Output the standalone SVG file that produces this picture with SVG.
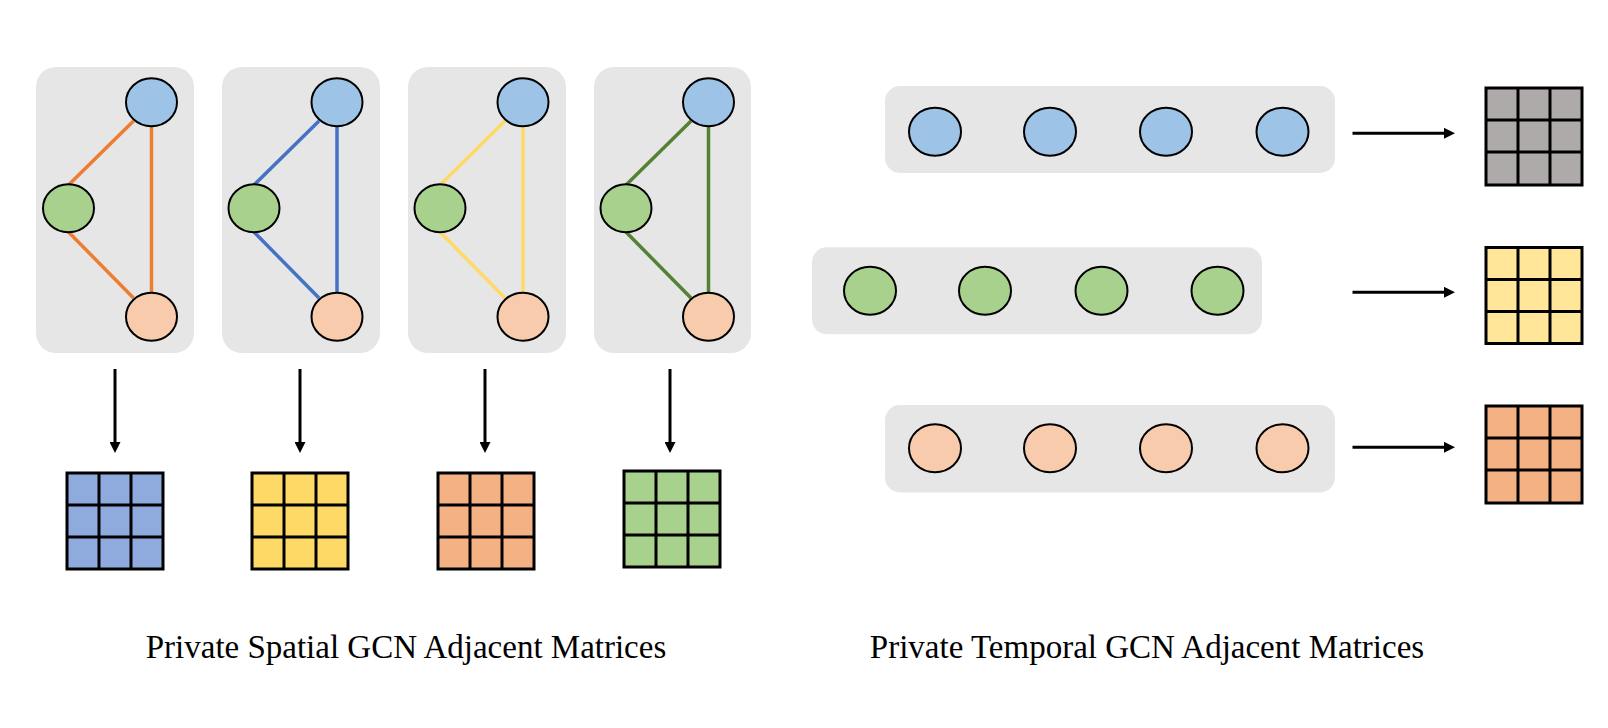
<svg xmlns="http://www.w3.org/2000/svg" width="1608" height="728" viewBox="0 0 1608 728">
<defs>
<style>
.panel{fill:#E6E6E6;stroke:none}
.n{stroke:#000;stroke-width:2}
.nb{fill:#9DC3E6}
.ng{fill:#A9D18E}
.np{fill:#F8CBAD}
.e{stroke-width:3.5;fill:none}
.eo{stroke:#ED7D31}
.ebl{stroke:#4472C4}
.ey{stroke:#FFD966}
.egr{stroke:#548235}
.m{stroke:#000;stroke-width:3}
.g{stroke:#000;stroke-width:3;fill:none}
.arr{stroke:#000;stroke-width:3;fill:none;marker-end:url(#ah)}
.cap{font-family:"Liberation Serif","Times New Roman",serif;font-size:33px;fill:#000;text-anchor:middle}
</style>
<marker id="ah" markerUnits="userSpaceOnUse" markerWidth="12" markerHeight="11" refX="1" refY="5.5" orient="auto">
<path d="M0,0 L11,5.5 L0,11 z" fill="#000"/>
</marker>
<g id="grid">
<line x1="32" y1="0" x2="32" y2="96"/>
<line x1="64" y1="0" x2="64" y2="96"/>
<line x1="0" y1="32" x2="96" y2="32"/>
<line x1="0" y1="64" x2="96" y2="64"/>
</g>
</defs>
<rect width="1608" height="728" fill="#fff"/>

<!-- Spatial panels -->
<g id="spatial1">
<rect class="panel" x="36" y="67" width="158" height="286" rx="20"/>
<g class="e eo">
<line x1="68.5" y1="185" x2="133.5" y2="121"/>
<line x1="68.5" y1="232" x2="133.5" y2="298"/>
<line x1="151.5" y1="126" x2="151.5" y2="293"/>
</g>
<ellipse class="n nb" cx="151.5" cy="102.3" rx="25.5" ry="24"/>
<ellipse class="n ng" cx="68.5" cy="208.3" rx="25.5" ry="24"/>
<ellipse class="n np" cx="151.5" cy="316.7" rx="25.5" ry="24"/>
</g>
<g id="spatial2">
<rect class="panel" x="222" y="67" width="158" height="286" rx="20"/>
<g class="e ebl">
<line x1="254" y1="185" x2="319" y2="121"/>
<line x1="254" y1="232" x2="319" y2="298"/>
<line x1="337" y1="126" x2="337" y2="293"/>
</g>
<ellipse class="n nb" cx="337" cy="102.3" rx="25.5" ry="24"/>
<ellipse class="n ng" cx="254" cy="208.3" rx="25.5" ry="24"/>
<ellipse class="n np" cx="337" cy="316.7" rx="25.5" ry="24"/>
</g>
<g id="spatial3">
<rect class="panel" x="408" y="67" width="158" height="286" rx="20"/>
<g class="e ey">
<line x1="440" y1="185" x2="505" y2="121"/>
<line x1="440" y1="232" x2="505" y2="298"/>
<line x1="523" y1="126" x2="523" y2="293"/>
</g>
<ellipse class="n nb" cx="523" cy="102.3" rx="25.5" ry="24"/>
<ellipse class="n ng" cx="440" cy="208.3" rx="25.5" ry="24"/>
<ellipse class="n np" cx="523" cy="316.7" rx="25.5" ry="24"/>
</g>
<g id="spatial4">
<rect class="panel" x="594" y="67" width="157" height="286" rx="20"/>
<g class="e egr">
<line x1="626" y1="185" x2="691" y2="121"/>
<line x1="626" y1="232" x2="691" y2="298"/>
<line x1="708.5" y1="126" x2="708.5" y2="293"/>
</g>
<ellipse class="n nb" cx="708.5" cy="102.3" rx="25.5" ry="24"/>
<ellipse class="n ng" cx="626" cy="208.3" rx="25.5" ry="24"/>
<ellipse class="n np" cx="708.5" cy="316.7" rx="25.5" ry="24"/>
</g>

<!-- Spatial matrices -->
<g id="smat1" transform="translate(67,473)">
<rect class="m" width="96" height="96" fill="#8FAADC"/>
<use href="#grid" class="g"/>
</g>
<g id="smat2" transform="translate(252,473)">
<rect class="m" width="96" height="96" fill="#FFD966"/>
<use href="#grid" class="g"/>
</g>
<g id="smat3" transform="translate(438,473)">
<rect class="m" width="96" height="96" fill="#F4B183"/>
<use href="#grid" class="g"/>
</g>
<g id="smat4" transform="translate(624,471)">
<rect class="m" width="96" height="96" fill="#A9D18E"/>
<use href="#grid" class="g"/>
</g>

<!-- Temporal rows -->
<g id="trow1">
<rect class="panel" x="885" y="86" width="450" height="87" rx="15"/>
<ellipse class="n nb" cx="935" cy="131.7" rx="26" ry="24"/>
<ellipse class="n nb" cx="1050" cy="131.7" rx="26" ry="24"/>
<ellipse class="n nb" cx="1166" cy="131.7" rx="26" ry="24"/>
<ellipse class="n nb" cx="1282.5" cy="131.7" rx="26" ry="24"/>
</g>
<g id="trow2">
<rect class="panel" x="812" y="247.3" width="450" height="87" rx="15"/>
<ellipse class="n ng" cx="870" cy="290.7" rx="26" ry="24"/>
<ellipse class="n ng" cx="985" cy="290.7" rx="26" ry="24"/>
<ellipse class="n ng" cx="1101.5" cy="290.7" rx="26" ry="24"/>
<ellipse class="n ng" cx="1217.5" cy="290.7" rx="26" ry="24"/>
</g>
<g id="trow3">
<rect class="panel" x="885" y="405" width="450" height="87.5" rx="15"/>
<ellipse class="n np" cx="935" cy="448.3" rx="26" ry="24"/>
<ellipse class="n np" cx="1050" cy="448.3" rx="26" ry="24"/>
<ellipse class="n np" cx="1166" cy="448.3" rx="26" ry="24"/>
<ellipse class="n np" cx="1282.5" cy="448.3" rx="26" ry="24"/>
</g>

<!-- Temporal matrices -->
<g id="tmat1" transform="translate(1486,88)">
<rect class="m" width="96" height="97" fill="#AEAAAA"/>
<use href="#grid" class="g"/>
</g>
<g id="tmat2" transform="translate(1486,247.5)">
<rect class="m" width="96" height="96" fill="#FFE699"/>
<use href="#grid" class="g"/>
</g>
<g id="tmat3" transform="translate(1486,406)">
<rect class="m" width="96" height="97" fill="#F4B183"/>
<use href="#grid" class="g"/>
</g>

<!-- Connectors -->
<g id="connectors">
<line class="arr" x1="115" y1="369" x2="115" y2="443"/>
<line class="arr" x1="300" y1="369" x2="300" y2="443"/>
<line class="arr" x1="485" y1="369" x2="485" y2="443"/>
<line class="arr" x1="670" y1="369" x2="670" y2="443"/>
<line class="arr" x1="1352.5" y1="133.3" x2="1445" y2="133.3"/>
<line class="arr" x1="1352.5" y1="292.3" x2="1445" y2="292.3"/>
<line class="arr" x1="1352.5" y1="447.3" x2="1445" y2="447.3"/>
</g>

<text class="cap" x="406" y="658">Private Spatial GCN Adjacent Matrices</text>
<text class="cap" x="1147" y="658">Private Temporal GCN Adjacent Matrices</text>
</svg>
